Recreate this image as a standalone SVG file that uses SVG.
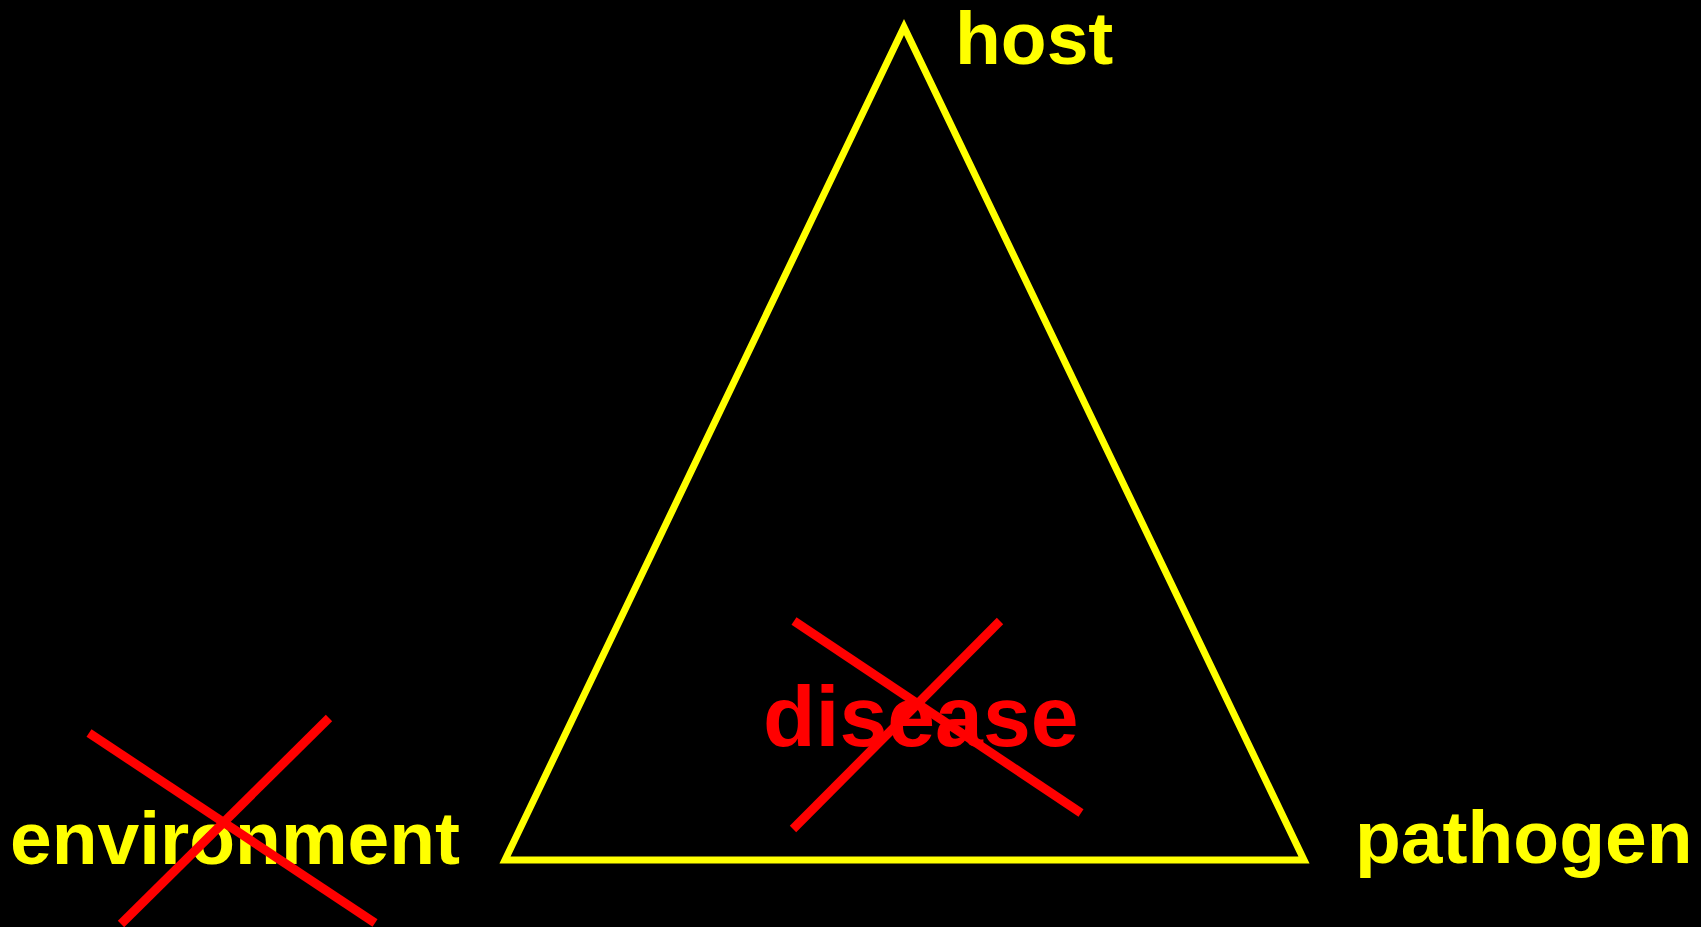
<svg xmlns="http://www.w3.org/2000/svg" width="1701" height="927" viewBox="0 0 1701 927">
<style>
.lbl{font-family:"Liberation Sans",Arial,sans-serif;font-weight:bold;font-size:75px;fill:#FFFF00}
.dis{font-family:"Liberation Sans",Arial,sans-serif;font-weight:bold;font-size:86px;fill:#FF0000}
.tri{fill:none;stroke:#FFFF00;stroke-width:7;stroke-linejoin:miter}
.x{stroke:#FF0000;stroke-width:9;stroke-linecap:butt}
</style>
<rect x="0" y="0" width="1701" height="927" fill="#000000"/>
<g id="triangle">
<polygon class="tri" points="904,27 1304,860 505,860"/>
</g>
<g id="host"><text class="lbl" x="955" y="64">host</text></g>
<g id="pathogen"><text class="lbl" x="1355" y="863">pathogen</text></g>
<g id="environment">
<text class="lbl" x="10" y="864">environment</text>
<line class="x" x1="89" y1="733" x2="375" y2="923"/>
<line class="x" x1="329" y1="718" x2="121" y2="924"/>
</g>
<g id="disease">
<text class="dis" x="763" y="746">disease</text>
<line class="x" x1="794" y1="621" x2="1081" y2="813"/>
<line class="x" x1="1000" y1="621" x2="793" y2="829"/>
</g>
</svg>
